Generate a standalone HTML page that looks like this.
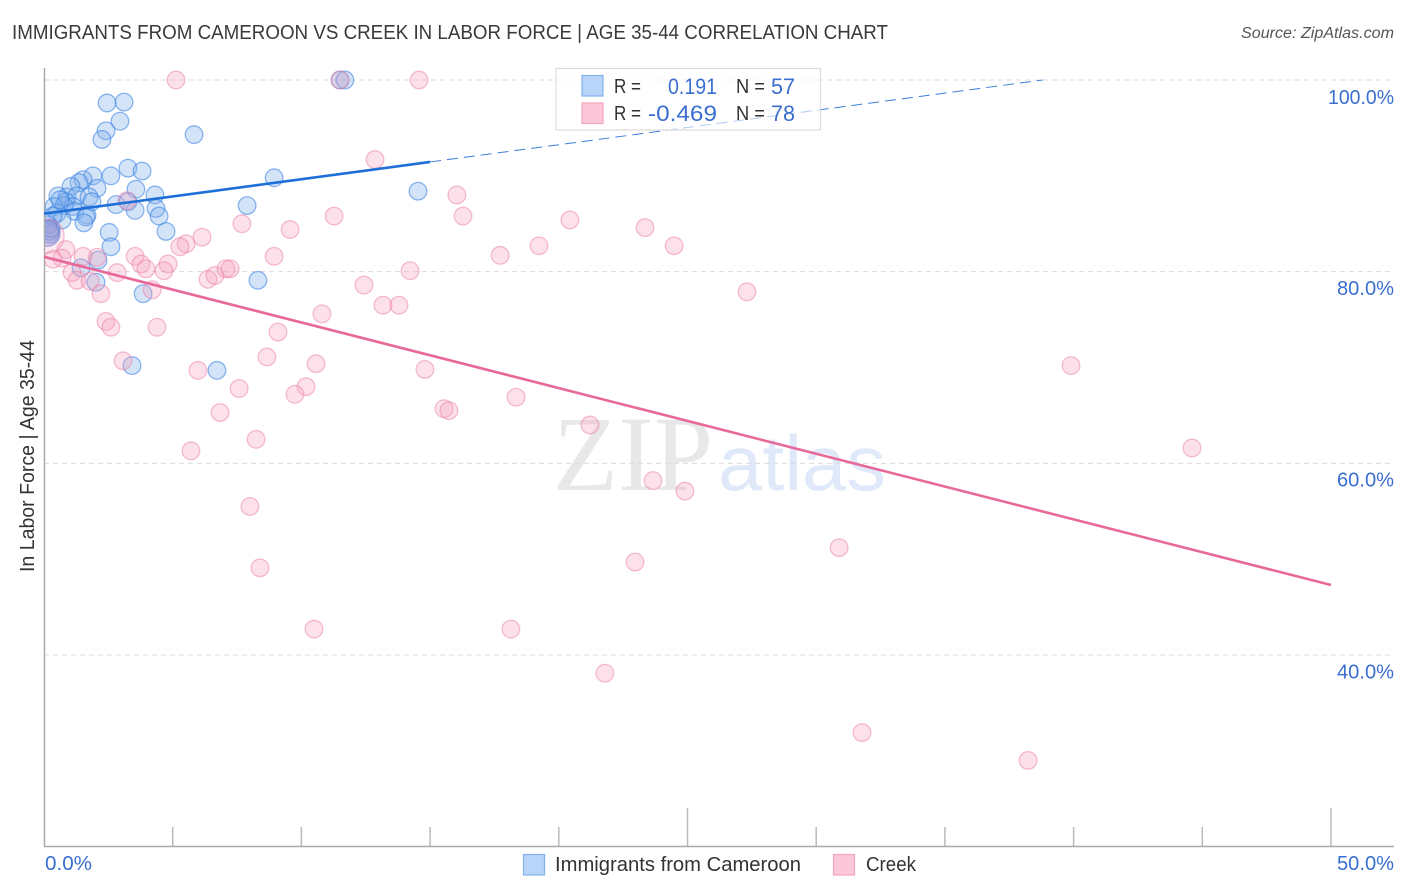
<!DOCTYPE html>
<html lang="en">
<head>
<meta charset="utf-8">
<title>Immigrants from Cameroon vs Creek in Labor Force | Age 35-44 Correlation Chart</title>
<style>
html,body{margin:0;padding:0;background:#fff;}
svg{display:block;font-family:"Liberation Sans",sans-serif;}
</style>
</head>
<body>
<svg id="chart" xmlns="http://www.w3.org/2000/svg" width="1406" height="892" viewBox="0 0 1406 892">
  <rect x="0" y="0" width="1406" height="892" fill="#ffffff"/>
  <text x="12" y="39" font-size="20" fill="#3a3a3a" textLength="876" lengthAdjust="spacingAndGlyphs">IMMIGRANTS FROM CAMEROON VS CREEK IN LABOR FORCE | AGE 35-44 CORRELATION CHART</text>
  <text x="1394" y="38" font-size="15.5" font-style="italic" fill="#555555" text-anchor="end" textLength="153" lengthAdjust="spacingAndGlyphs">Source: ZipAtlas.com</text>
  <g>
    <text x="553" y="490" font-family="'Liberation Serif',serif" font-size="107" fill="#e8e8e8" textLength="160" lengthAdjust="spacingAndGlyphs">ZIP</text>
    <text x="718" y="490" font-family="'Liberation Sans',sans-serif" font-size="78" fill="#dfe9f9" textLength="168" lengthAdjust="spacingAndGlyphs">atlas</text>
  </g>
  <g id="grid"></g>
  <g id="ticks"></g>
  <line x1="44.5" y1="68" x2="44.5" y2="846" stroke="#aaaaaa" stroke-width="1.5"/>
  <line x1="44" y1="846.5" x2="1394" y2="846.5" stroke="#aaaaaa" stroke-width="1.5"/>
  <defs>
    <clipPath id="plot-clip"><rect x="45" y="60" width="1350" height="786"/></clipPath>
  </defs>
  <g id="points-cameroon" clip-path="url(#plot-clip)"></g>
  <g id="points-creek" clip-path="url(#plot-clip)"></g>
  <g id="trends"></g>
  <g id="labels"></g>
  <text transform="translate(34,456) rotate(-90)" font-size="20" fill="#333333" text-anchor="middle" textLength="232" lengthAdjust="spacingAndGlyphs">In Labor Force | Age 35-44</text>

  <g>
    <rect x="556" y="68.5" width="264.5" height="61.5" fill="#ffffff" fill-opacity="0.6" stroke="#dddddd" stroke-width="1.2"/>
    <rect x="582" y="75.5" width="21" height="20.5" fill="#b9d4f9" stroke="#82b1ec" stroke-width="1.2"/>
    <rect x="582" y="103" width="21" height="20.5" fill="#fcc8d9" stroke="#f2a5bf" stroke-width="1.2"/>
    <g font-size="20" fill="#333333">
      <text x="614" y="93" textLength="27" lengthAdjust="spacingAndGlyphs">R =</text>
      <text x="736" y="93" textLength="29" lengthAdjust="spacingAndGlyphs">N =</text>
      <text x="614" y="120" textLength="27" lengthAdjust="spacingAndGlyphs">R =</text>
      <text x="736" y="120" textLength="29" lengthAdjust="spacingAndGlyphs">N =</text>
    </g>
    <g font-size="22" fill="#3a6fd0">
      <text x="668" y="94" textLength="49" lengthAdjust="spacingAndGlyphs">0.191</text>
      <text x="771" y="94" textLength="24" lengthAdjust="spacingAndGlyphs">57</text>
      <text x="648" y="121" textLength="69" lengthAdjust="spacingAndGlyphs">-0.469</text>
      <text x="771" y="121" textLength="24" lengthAdjust="spacingAndGlyphs">78</text>
    </g>
  </g>

  <g>
    <rect x="523.5" y="854.5" width="21" height="20.5" fill="#b9d4f9" stroke="#82b1ec" stroke-width="1.2"/>
    <text x="555" y="871" font-size="20" fill="#333333" textLength="246" lengthAdjust="spacingAndGlyphs">Immigrants from Cameroon</text>
    <rect x="833.5" y="854.5" width="21" height="20.5" fill="#fcc8d9" stroke="#f2a5bf" stroke-width="1.2"/>
    <text x="866" y="871" font-size="20" fill="#333333" textLength="50" lengthAdjust="spacingAndGlyphs">Creek</text>
  </g>
</svg>
<script>
// ---- Chart data (x = share of Immigrants from Cameroon %, y = in labor force %) ----
const cameroonX = [11.5,11.69,2.45,3.11,2.95,2.41,2.25,5.83,3.26,3.81,2.6,1.9,1.52,1.36,1.05,2.06,3.57,4.31,8.94,14.53,0.54,0.89,1.28,1.75,1.86,2.8,3.26,3.54,4.35,4.47,7.89,0.85,0.78,1.13,0.39,0.51,1.2,1.67,1.63,0.7,0.35,1.55,4.74,2.53,2.6,2.1,1.44,2.02,8.31,3.85,3.42,6.72,0.16,0.23,0.23,0.27,0.62];
const cameroonY = [100,100,97.6,97.7,95.7,94.7,93.8,94.3,90.8,90.5,90,90,89.6,89.3,88.9,88.7,88.6,88,89.8,88.4,87.9,87.8,87.9,87.8,87.3,87,87.3,86.4,86.6,85.8,86.9,87.3,86.9,86.8,86.8,86.1,86.3,85.9,85.7,85.4,85.8,85.1,84.2,84.1,82.6,81.2,80.4,78.9,79.1,77.7,70.2,69.7,84.9,84.2,83.9,84.5,87.5];
const creekX = [5.13,14.57,11.5,12.86,16.04,16.28,11.27,3.22,20.43,23.35,24.48,19.23,17.72,9.56,7.69,6.14,5.52,5.28,8.94,3.54,3.77,3.96,4.82,4.66,6.37,6.64,7.07,7.23,14.22,2.84,2.06,1.52,0.85,0.7,0.35,1.09,1.28,1.79,2.21,4.2,12.43,13.17,13.79,10.8,27.31,2.41,2.6,4.39,9.09,8.66,3.07,10.57,5.98,14.8,39.9,7.58,10.18,9.75,18.34,15.54,15.73,6.84,8.24,21.21,5.71,44.6,23.66,24.9,8,30.89,22.96,8.39,10.49,18.14,21.79,31.78,38.23];
const creekY = [100,100,100,91.7,88,85.8,85.8,87.4,85.4,84.6,82.7,82.7,81.7,84.4,85,83.6,82.9,82.6,81.6,81.6,80.8,80.3,80.8,80.1,79.2,79.6,80.3,80.3,80.1,79.9,81.5,81.6,82.3,81.4,81.3,79.9,79.1,79,77.7,78.1,78.6,76.5,76.5,75.6,77.9,74.8,74.2,74.2,73.7,71.1,70.7,70.4,69.7,69.8,70.2,67.8,68,67.2,66.9,65.7,65.5,65.3,62.5,64,61.3,61.6,58.2,57.1,55.5,51.2,49.7,49.1,42.7,42.7,38.1,31.9,29];
// Large aggregate bubbles at the left edge of the plot
const cameroonClusterX = [0.12];
const cameroonClusterY = [84.0];
const creekClusterX = [0.12];
const creekClusterY = [83.7];
// Trend lines: [start x, end x], y at those x values
const cameroonTrendX = [0, 15];
const cameroonTrendY = [86.05, 91.45];
const cameroonDashX = [15, 38.8];
const cameroonDashY = [91.45, 100];
const creekTrendX = [0, 50];
const creekTrendY = [81.55, 47.3];
// Ticks and labels
const yTickValues = [100, 80, 60, 40];
const yTickLabels = ['100.0%', '80.0%', '60.0%', '40.0%'];
const xTickValues = [5, 10, 15, 20, 25, 30, 35, 40, 45, 50];
const xMajorTicks = [25, 50];
const xEndValues = [0, 50];
const xEndLabels = ['0.0%', '50.0%'];

// ---- Axis functions ----
function sx(v){ return 44 + v * 25.74; }
function sy(v){ return 80 + (100 - v) * 9.583; }

// Label widths follow the reference's narrow "1" and wider digits
function labelWidth(label){
  if (label.indexOf('100') === 0) return 66;
  return label.length === 4 ? 47 : 57;
}

const NS = 'http://www.w3.org/2000/svg';
const gGrid = document.getElementById('grid');
const gTicks = document.getElementById('ticks');
const gLabels = document.getElementById('labels');
const gCam = document.getElementById('points-cameroon');
const gCreek = document.getElementById('points-creek');
const gTrends = document.getElementById('trends');

function mk(tag, attrs){
  const el = document.createElementNS(NS, tag);
  for (const k in attrs) el.setAttribute(k, attrs[k]);
  return el;
}

yTickValues.forEach(function(v, i){
  const line = mk('line', {x1: 44, x2: 1394, y1: sy(v), y2: sy(v), stroke: '#dcdcdc', 'stroke-width': 1, 'stroke-dasharray': '5 4'});
  
  
  gGrid.appendChild(line);
  const w = labelWidth(yTickLabels[i]);
  const t = mk('text', {x: 1394 - w, y: sy(v) + 24 - (i === 0 ? 0 : 0.7), 'font-size': 20.5, fill: '#3a6fd0', textLength: w, lengthAdjust: 'spacingAndGlyphs'});
  
  
  t.textContent = yTickLabels[i];
  gLabels.appendChild(t);
});

xTickValues.forEach(function(v){
  const top = xMajorTicks.indexOf(v) >= 0 ? 808 : 827;
  const tick = mk('line', {x1: sx(v), x2: sx(v), y1: top, y2: 846, stroke: '#bbbbbb', 'stroke-width': 1.5});
  
  
  gTicks.appendChild(tick);
});

xEndValues.forEach(function(v, i){
  const w = labelWidth(xEndLabels[i]);
  const px = i === 0 ? sx(v) + 1 : 1394 - w;
  const t = mk('text', {x: px, y: 870, 'font-size': 20.5, fill: '#3a6fd0', textLength: w, lengthAdjust: 'spacingAndGlyphs'});
  
  
  t.textContent = xEndLabels[i];
  gLabels.appendChild(t);
});

cameroonX.forEach(function(v, i){
  const c = mk('circle', {cx: sx(v), cy: sy(cameroonY[i]), r: 8.8, fill: 'rgba(130,175,235,0.34)', stroke: 'rgba(50,125,225,0.55)', 'stroke-width': 1.3});
  
  
  gCam.appendChild(c);
});
cameroonClusterX.forEach(function(v, i){
  const c = mk('circle', {cx: sx(v), cy: sy(cameroonClusterY[i]), r: 13, fill: 'rgba(110,130,215,0.35)', stroke: 'rgba(60,110,215,0.5)', 'stroke-width': 1.3});
  
  
  gCam.appendChild(c);
});
creekX.forEach(function(v, i){
  const c = mk('circle', {cx: sx(v), cy: sy(creekY[i]), r: 8.8, fill: 'rgba(245,165,190,0.33)', stroke: 'rgba(235,125,165,0.5)', 'stroke-width': 1.3});
  
  
  gCreek.appendChild(c);
});
creekClusterX.forEach(function(v, i){
  const c = mk('circle', {cx: sx(v), cy: sy(creekClusterY[i]), r: 17, fill: 'rgba(245,165,190,0.22)', stroke: 'rgba(235,125,165,0.5)', 'stroke-width': 1.3});
  
  
  gCreek.appendChild(c);
});

const dash = mk('line', {x1: sx(cameroonDashX[0]), y1: sy(cameroonDashY[0]), x2: sx(cameroonDashX[1]), y2: sy(cameroonDashY[1]), stroke: '#3d7fdc', 'stroke-width': 1, 'stroke-dasharray': '11 6'});


gTrends.appendChild(dash);

const camLine = mk('line', {x1: sx(cameroonTrendX[0]), y1: sy(cameroonTrendY[0]), x2: sx(cameroonTrendX[1]), y2: sy(cameroonTrendY[1]), stroke: '#1f6fd8', 'stroke-width': 2.6});


gTrends.appendChild(camLine);

const creekLine = mk('line', {x1: sx(creekTrendX[0]), y1: sy(creekTrendY[0]), x2: sx(creekTrendX[1]), y2: sy(creekTrendY[1]), stroke: '#e8689a', 'stroke-width': 2.6});


gTrends.appendChild(creekLine);
</script>
</body>
</html>
